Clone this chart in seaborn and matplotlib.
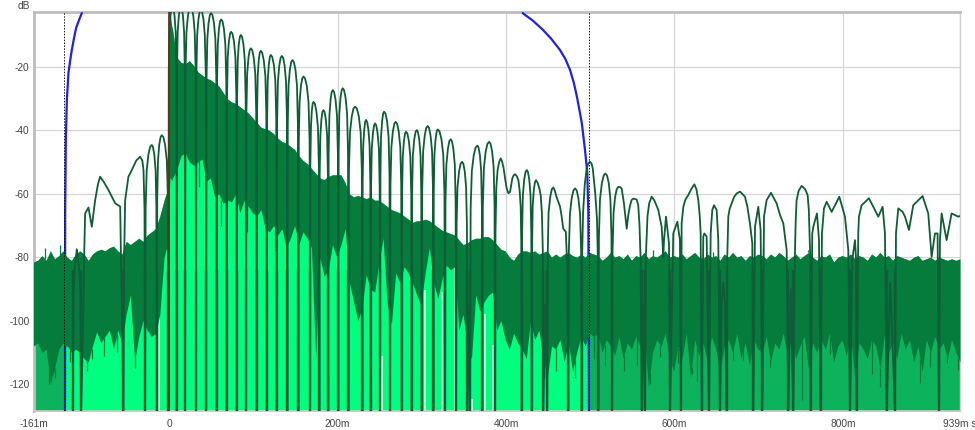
import numpy as np
import matplotlib
matplotlib.use("Agg")
import matplotlib.pyplot as plt
import seaborn as sns

# time base of the noise band (ms)
band_t_pre = [-161,-156,-151,-146,-141,-136,-131,-126,-124,-121,-116,-111,-106,-101,-96,-91,-86,-81,-76,-71,
              -66,-61,-56,-51,-46,-41,-36,-31,-26,-21,-16,-11,-6,-1,0,1,2,3]
band_top_pre = [-81.5,-81,-79.5,-81,-78,-80.5,-79.5,-78,-79,-80,-81,-79,-78,-79,-81,-79,-78,-77.5,-78,-77,
                -76.5,-78,-79,-75,-76,-75,-74,-75,-73,-72,-71,-67,-62,-58,-3,-3,-5,-7]
band_low_pre = [-108,-107,-110,-109,-120,-115,-109,-107,-108,-108,-110,-109,-110,-112,-113,-108,-103.5,-107,-105,-103,
                -109,-103,-107,-98,-92,-113,-105,-100,-103,-105,-104,-98,-80,-75,-60,-55,-55,-56]
band_top_post = [
    -8,-17,-18.5,-19,-18,-19.5,-21.5,-22.5,-23.5,-24,-25,-26,-28,-30,-31,-31.5,-32.5,-33.5,-34.5,-36,
    -37.5,-39,-39.5,-40,-41,-42.5,-43.5,-44,-45,-46,-48,-49.5,-50.5,-52,-53.5,-55,-55.5,-54.5,-54,-54,
    -54,-56.5,-60,-61,-60.5,-61,-61.5,-61,-62,-62,-63,-64,-65,-65.5,-66,-67,-68,-69,-68.5,-68.5,
    -68,-68.5,-69.5,-70.5,-71.5,-72,-72.5,-73,-74.5,-76,-75.5,-74.5,-74,-74,-73.5,-73.5,-74.5,-76,-77.5,-78,
    -80,-81,-79,-78,-78,-78.5,-78,-79,-78.5,-78,-80,-79,-80,-79,-78.5,-79.5,-80,-79,-80,-78.5,
    -79,-79.5,-81,-80,-78.5,-80,-79.5,-80.5,-79,-81,-79.5,-80,-78.5,-80.5,-79.5,-80,-79,-78,-80,-79.5,
    -80,-79,-80.5,-79.5,-78.5,-80,-80.5,-79,-80,-79.5,-81,-79,-80,-78.5,-80,-79.5,-81,-79.5,-80,-79,
    -79.5,-80.5,-79,-80,-78.5,-79.5,-81,-80,-79,-80.5,-79.5,-78.5,-80,-81,-79.5,-80,-79,-81.5,-80,-79.5,
    -80,-79,-80.5,-79.5,-80,-81,-79,-80,-78.5,-80,-79.5,-81,-79.5,-80,-80.5,-81,-80,-79.5,-81,-80.5,
    -80,-81,-80,-80.5,-81,-80.5,-81,-80.5]
band_low_post = [
    -55,-52.5,-48,-47,-50,-51,-50,-49,-56,-55,-61,-60,-63,-62,-62.5,-60,-66,-62,-64,-66,
    -67,-65,-71,-72,-70,-73,-71,-77,-74,-70,-76,-72,-74,-77,-112,-80,-86,-84,-76,-80,
    -76,-71,-88,-94,-100,-96,-85.5,-90,-91,-82,-74,-95,-101,-85,-88,-83,-85,-88,-92,-95,
    -85,-77,-88,-93,-87,-82.5,-84,-83,-103,-98,-108,-112,-92,-97,-94,-92,-91,-103,-100,-106,
    -109,-104,-107,-109,-112,-100,-106,-103,-112,-118,-108,-109,-106,-113,-107,-116,-110,-105,-108,-104,
    -105,-104,-110,-106,-108,-111,-105,-112,-107,-109,-105,-108,-104,-121,-110,-106,-108,-104,-112,-116,
    -108,-112,-104,-118,-106,-111,-107,-113,-105,-109,-116,-108,-106,-110,-104,-112,-107,-114,-106,-109,
    -110,-105,-113,-107,-109,-104,-111,-106,-112,-108,-105,-115,-107,-110,-106,-109,-104,-113,-108,-106,
    -111,-105,-118,-107,-109,-112,-106,-108,-115,-105,-110,-107,-112,-104,-109,-106,-113,-108,-116,-106,
    -110,-105,-109,-107,-112,-106,-110,-113]

# narrow noise spikes reaching below and above the band
spike_low_t = [-143,-136,-118,-97,-92,-77,-62,-40,36,62,92,126,445,459,482,505,517,540,555,571,583,604.6,620.4,626.3,
               669.9,681.7,713.4,751,784.6,834,844,891.5,903.3,923,937]
spike_low_db = [-120,-118,-113,-116,-112,-111,-110,-115,-58,-70,-72,-78,-118,-116,-118,-112,-114,-116,-114,-120,-111.4,
                -113.5,-116.7,-119.3,-112.5,-112.5,-114.6,-125,-110.4,-116.7,-121,-119.8,-114.6,-113.5,-115.6]
spike_top_t = [-147,-130,-110,575,624,646,705.5,759]
spike_top_db = [-77,-76,-77,-77.7,-78.3,-78.3,-77.2,-77.7]

# smoothed envelope, before the impulse
line_t_a = [-114.4,-113.5,-112,-109.5,-107,-105.5,-104.5,-102,-100.9,-99.7,-95.7,-91.8,-87.8,-84.5,-81.9,-77,-72,-64,-58.1,-54.2,
            -53.4,-52.2,-48.3,-44.3,-39,-34.4,-31.8,-30.4,-29.2,-28.5,
            -27.9,-26.6,-24.6,-22.5,-20.6,-19.2,-17.6,-16.0,-15.1,-14.6,
            -14.1,-13.2,-11.7,-10.1,-8.7,-6.8,-4.8,-2.7,-1.4,-0.8]
line_db_a = [-129,-92,-83,-77.6,-83,-92,-129,-100,-80,-66.2,-64.3,-70.4,-62,-57,-54.6,-56.5,-58.8,-63,-64,-129,
             -80,-62,-54.6,-52.5,-49.5,-48.3,-49.5,-52.5,-65,-129,
             -64.6,-52.6,-47.6,-45.2,-44.6,-45.2,-47.6,-52.6,-64.6,-129,
             -61.5,-49.5,-44.5,-42.1,-41.5,-42.1,-44.5,-49.5,-61.5,-129]
# 0 to 200 ms, arch by arch
line_t_b = [-0.4,0.4,1.6,2.8,4,5.2,6.5,7.8,8.6,9,
            9.4,10.2,11.5,12.8,14,15.2,16.5,17.8,18.6,19,
            19.5,20.6,22.3,23.9,25.5,27.1,28.8,30.4,31.5,32,
            32.4,33.3,34.8,36.2,37.5,39.1,40.8,42.4,43.5,44,
            44.5,45.4,46.9,48.4,49.8,51.4,53.2,54.9,56,56.5,
            56.9,57.8,59.2,60.5,61.8,63.4,65.1,66.8,67.9,68.4,
            68.8,69.6,71,72.4,73.6,75.2,77,78.7,79.8,80.3,
            80.7,81.5,82.7,84,85.1,86.6,88.3,89.9,90.9,91.4,
            91.8,92.7,94.2,95.7,97,98.7,100.5,102.3,103.4,104,
            104.4,105.2,106.4,107.6,108.8,110.5,112.4,114.3,115.4,116,
            116.4,117.1,118.4,119.6,120.7,122.4,124.3,126.1,127.2,127.8,
            128.3,129.2,130.8,132.4,133.8,135.4,137.1,138.8,139.9,140.4,
            140.9,141.8,143.4,145,146.4,148.1,150,151.8,152.9,153.5,
            154,154.9,156.5,158.1,159.5,161.4,163.5,165.5,166.8,167.4,
            167.7,168.4,169.4,170.4,171.4,173.1,174.9,176.7,177.8,178.4,
            178.8,179.6,180.8,182,183.2,184.6,186.1,187.6,188.5,189,
            189.4,190.3,191.7,193,194.3,195.9,197.6,199.3,200.4,200.9]
line_db_b = [-21,-9,-4,-1.6,-1,-1.6,-4,-9,-21,-129,
             -21,-9,-4,-1.6,-1,-1.6,-4,-9,-21,-129,
             -21,-9,-4,-1.6,-1,-1.6,-4,-9,-21,-129,
             -22,-10,-5,-2.6,-2,-2.6,-5,-10,-22,-129,
             -23,-11,-6,-3.6,-3,-3.6,-6,-11,-23,-129,
             -25,-13,-8,-5.6,-5,-5.6,-8,-13,-25,-129,
             -28.9,-16.9,-11.9,-9.5,-8.9,-9.5,-11.9,-16.9,-28.9,-129,
             -29.9,-17.9,-12.9,-10.5,-9.9,-10.5,-12.9,-17.9,-29.9,-129,
             -34.1,-22.1,-17.1,-14.7,-14.1,-14.7,-17.1,-22.1,-34.1,-129,
             -34.9,-22.9,-17.9,-15.5,-14.9,-15.5,-17.9,-22.9,-34.9,-129,
             -36.2,-24.2,-19.2,-16.8,-16.2,-16.8,-19.2,-24.2,-36.2,-129,
             -36.5,-24.5,-19.5,-17.1,-16.5,-17.1,-19.5,-24.5,-36.5,-129,
             -37.8,-25.8,-20.8,-18.4,-17.8,-18.4,-20.8,-25.8,-37.8,-129,
             -43,-31,-26,-23.6,-23,-23.6,-26,-31,-43,-129,
             -51,-39,-34,-31.6,-31,-31.6,-34,-39,-51,-129,
             -53.6,-41.6,-36.6,-34.2,-33.6,-34.2,-36.6,-41.6,-53.6,-129,
             -47.3,-35.3,-30.3,-27.9,-27.3,-27.9,-30.3,-35.3,-47.3,-129]
# 200 to 500 ms
line_t_c = [201.3,202.1,203.5,204.9,206.1,207.7,209.5,211.3,212.4,212.9,
            213.5,214.8,216.9,218.9,220.8,222.9,225.2,227.4,228.8,229.5,
            229.8,230.5,231.7,232.8,233.8,235.1,236.6,238,238.9,239.4,
            239.8,240.6,242,243.3,244.5,245.9,247.5,249.1,250,250.5,
            250.9,251.6,252.9,254.1,255.2,256.9,258.8,260.6,261.7,262.3,
            262.8,263.9,265.7,267.4,269,270.7,272.6,274.5,275.6,276.2,
            276.6,277.4,278.8,280.1,281.3,282.9,284.7,286.4,287.5,288,
            288.5,289.4,291,292.6,294,295.4,297,298.5,299.4,299.9,
            300.5,301.6,303.5,305.3,307,308.6,310.4,312.2,313.3,313.8,
            314.2,315,316.4,317.7,318.9,321,323.3,325.5,326.9,327.6,
            328.1,329.2,331,332.7,334.3,335.8,337.5,339.2,340.2,340.7,
            341.3,342.4,344.3,346.1,347.8,349.3,351,352.6,353.6,354.1, 355.5,357.3,
            358,359.4,361.7,363.9,366,367.4,369,370.5,371.4,371.9,
            372.5,373.8,375.9,378,379.9,381.6,383.5,385.3,386.4,387,
            387.5,388.5,390,391.8,393.7,395.3,396.9,398.8,400.8,402.8,404.8,406,407.5,409,410.7,412.7,414.7,416.2,417.4,418.1,418.6,
            419.1,420,421.6,423.2,424.6,426,427.6,429.1,430,430.5,
            431,431.7,433,434.4,435.6,437.5,439.6,441.2,442.6,443.7,444.3, 446.5,449,
            449.6,450.5,452.5,454.3,456.2,458,460,464.1,466,468,471,473,474,
            474.6,475.9,478,480.1,482,483.9,485.9,487.9,489.2,489.8,
            490.5,491.5,493.5,495.8,497.8,499.7,501.5,503,506,508,509,509.6]
line_db_c = [-46.7,-34.7,-29.7,-27.3,-26.7,-27.3,-29.7,-34.7,-46.7,-129,
             -52.5,-40.5,-35.5,-33.1,-32.5,-33.1,-35.5,-40.5,-52.5,-129,
             -56.7,-44.7,-39.7,-37.3,-36.7,-37.3,-39.7,-44.7,-56.7,-129,
             -57.8,-45.8,-40.8,-38.4,-37.8,-38.4,-40.8,-45.8,-57.8,-129,
             -54.1,-42.1,-37.1,-34.7,-34.1,-34.7,-37.1,-42.1,-54.1,-129,
             -57.3,-45.3,-40.3,-37.9,-37.3,-37.9,-40.3,-45.3,-57.3,-129,
             -60.4,-48.4,-43.4,-41,-40.4,-41,-43.4,-48.4,-60.4,-129,
             -59.9,-47.9,-42.9,-40.5,-39.9,-40.5,-42.9,-47.9,-59.9,-129,
             -58.6,-46.6,-41.6,-39.2,-38.6,-39.2,-41.6,-46.6,-58.6,-129,
             -59.7,-47.7,-42.7,-40.3,-39.7,-40.3,-42.7,-47.7,-59.7,-129,
             -62.8,-50.8,-45.8,-43.4,-42.8,-43.4,-45.8,-50.8,-62.8,-129,
             -69.9,-57.9,-52.9,-50.5,-49.9,-50.5,-52.9,-57.9,-69.9,-129, -95,-129,
             -64.8,-52.8,-47.8,-45.4,-44.8,-45.4,-47.8,-52.8,-64.8,-129,
             -63.6,-51.6,-46.6,-44.2,-43.6,-44.2,-46.6,-51.6,-63.6,-129,
             -72,-58,-52.5,-50,-48.8,-49.8,-51.5,-55,-58.3,-59.8,-59.4,-57.5,-55.1,-54.2,-53.8,-54.4,-55.7,-59,-64,-75,-129,
             -72.5,-60.5,-55.5,-53.1,-52.5,-53.1,-55.5,-60.5,-72.5,-129,
             -75.7,-63.7,-58.7,-56.3,-55.7,-56.5,-58.3,-60.5,-66,-78,-129, -95,-129,
             -78,-66,-61,-58.6,-58,-59,-61,-64,-67,-71,-72,-85,-129,
             -78.3,-66.3,-61.3,-58.9,-58.3,-58.9,-61.3,-66.3,-78.3,-129,
             -78,-66,-57,-52,-50.4,-49.9,-50.4,-52,-60,-68,-80,-129]
# 500 to 939 ms
line_t_d = [510.3,511.6,513.8,516,518,519.9,522,523.9,525.2,525.9,
            526.5,527.7,529.5,531.5,533.4,535.5,537.3,540,542,543.3,545,547,549,551.2,555.1,557,558.5,559.7,561.1,
            563,565, 566,568,570,572.9,576,580.8,584.8,586.8,587.5,589.9,593.5,594.7,
            598.6,603.4,606.5,607.7, 608.5,610.5,613,616.4,620,623.6,626,628.3,630,631.1,632.3, 634.2,635.4,638.2,641,
            643,644.9,646.9,650.1,652,654, 656,658,660,661.9,
            662.7,663.9,665.5,667.9,670.8,673.8,677.8,683.7,686.5,689.6,692.4,693.6,
            695.6,699.5,702.3,704.3, 706.3,709.4,714.6,721.3,725.3,729.2,733.2,735.2, 737.9,741.1,
            743.1,744,745,747.5,751,755,758.1,759.5,760.1,761.2,761.7, 763.6,764.8,769.2,771.6,773.5,
            775.1,777.5,780.7,786.6,795.7,802.4,806.4,808.4, 811.1,814.3,815.5,816.3,
            818.2,819,822.2,830.9,842,847.1,849.9,851.9, 856.2,861.8,
            863,865.7,870.9,873.7,878.4,883.5,894.6,901.3,905.3,909.3,912.4,914,
            915.2,917.2,923.1,929,933,937,939]
line_db_d = [-73.6,-61.6,-56.6,-54.2,-53.6,-54.2,-56.6,-61.6,-73.6,-129,
             -77.8,-66,-61,-58.5,-57.8,-57.9,-58.3,-63,-68,-71,-67,-64,-62,-61.5,-61.8,-63.6,-70,-80,-129,
             -95,-129, -80,-67,-63,-60.9,-62,-65.1,-70.4,-79.9,-75,-67.2,-75.6,-129,
             -72.5,-68.8,-74.6,-129, -69.3,-64.1,-61.8,-60.4,-58.5,-57,-58.5,-62,-67,-72.5,-129, -73.5,-72.5,-73.5,-129,
             -72.5,-65.1,-63.6,-65.1,-74.6,-129, -95,-88,-95,-129,
             -80,-67.2,-64.8,-63,-61,-59.9,-59.3,-60.9,-64,-69.3,-75.6,-129,
             -70.4,-64.1,-71.4,-129, -67.2,-62,-59.7,-63,-66.7,-69.3,-77.7,-129, -90,-129,
             -77.7,-68,-62,-59,-57.5,-58.5,-60.4,-65,-70.4,-80,-129, -72.5,-70.4,-66.2,-74.6,-129,
             -72.5,-64.6,-62.5,-65.7,-60.9,-67.2,-77.7,-129, -80.9,-74.6,-80,-129,
             -72.5,-67.2,-63.6,-61.4,-67.2,-64.1,-72.5,-129, -88,-129,
             -72.5,-64.6,-65.7,-67.2,-71.4,-63.6,-60.7,-66.2,-79.9,-72.5,-72.5,-129,
             -74.6,-66.2,-74.6,-66.2,-66.7,-67.2,-67]

# analysis window
win_left_t = [-123.6,-123.4,-122.6,-121.4,-119.5,-117.5,-115.5,-113,-110.4,-107,-103.6]
win_left_db = [-129,-66,-43,-30.4,-21.9,-18,-14.6,-11,-7.7,-5.2,-3]
win_right_t = [419.8,432,443.9,454,464,470.5,476,480.5,484.3,490,493.8,496.5,497.7,498.5]
win_right_db = [-3,-5.4,-8.3,-11.2,-14.6,-17.5,-20.9,-25,-29.5,-37.7,-46.2,-53.4,-66,-129]

# pale gaps in the bright fill
gap_t = [-11.5,252.4,303.9,323.7,339.5,360,375,385]
gap_top = [-90,-111,-90.4,-91,-82.5,-124.6,-98,-107.7]

window_edges = [-124.3,499]
x_ticks = [-161,0,200,400,600,800,939]
x_labels = ["-161m","0","200m","400m","600m","800m","939m s"]
y_ticks = [-20,-40,-60,-80,-100,-120]

sns.set_theme(style="white")
plt.rcParams['font.family'] = ['Liberation Sans', 'DejaVu Sans']

TXT = "#444444"
BAND = "#067C3C"
LINE = "#0F5D36"
FLOOR = -128.5
band_t = np.r_[band_t_pre, np.arange(4, 940, 5)]
band_top = np.r_[band_top_pre, band_top_post]
band_low = np.r_[band_low_pre, band_low_post]
line_t = np.r_[line_t_a, line_t_b, line_t_c, line_t_d]
line_db = np.r_[line_db_a, line_db_b, line_db_c, line_db_d]
null_t = line_t[line_db == -129]

fig = plt.figure(figsize=(9.75, 4.3), dpi=100)
ax = fig.add_axes([33.5/975, 1-411/430, (960-33.5)/975, (411-12)/430])
ax.set_xlim(-161, 939)
ax.set_ylim(FLOOR, -2.65)

ax.set_axisbelow(True)
ax.grid(True, color="#D6D6D6", lw=0.9)

inside = (band_t >= -124) & (band_t <= 499)
ax.fill_between(band_t, FLOOR, band_top, where=band_t <= -124, color="#0CB35C", lw=0, zorder=2)
ax.fill_between(band_t, FLOOR, band_top, where=inside, color="#00FF7F", lw=0, zorder=2)
ax.fill_between(band_t, FLOOR, band_top, where=band_t >= 499, color="#0CB35C", lw=0, zorder=2)
ax.vlines(gap_t, FLOOR, gap_top, color="#E6F7EC", lw=1.1, zorder=2.5)

sns.lineplot(x=win_left_t, y=win_left_db, estimator=None, sort=False, color="#2222DD", lw=1.6, ax=ax, zorder=3)
sns.lineplot(x=win_right_t, y=win_right_db, estimator=None, sort=False, color="#2222DD", lw=1.6, ax=ax, zorder=3)

ax.fill_between(band_t, band_low, band_top, color=BAND, lw=0, zorder=4)
ax.vlines(spike_low_t, spike_low_db, np.interp(spike_low_t, band_t, band_low), color=BAND, lw=0.9, zorder=4)
ax.vlines(spike_top_t, np.interp(spike_top_t, band_t, band_top), spike_top_db, color=BAND, lw=0.9, zorder=4)
sns.lineplot(x=line_t, y=line_db, estimator=None, sort=False, color=LINE, lw=1.3, ax=ax, zorder=5)
# the nulls read as thick dark bars through the noise floor
ax.vlines(null_t, FLOOR, np.minimum(np.interp(null_t, band_t, band_top), -84), color=LINE, lw=1.7, zorder=5)

ax.vlines(window_edges, FLOOR, -2.65, color="#111111", lw=0.7, linestyles=(0, (1.5, 1.5)), zorder=6)
ax.vlines([0], FLOOR, -2.65, color="#6A2E1E", lw=1.3, zorder=6)

ax.set_xticks(x_ticks)
ax.set_xticklabels(x_labels, fontsize=7.3, color=TXT)
ax.set_yticks(y_ticks)
ax.set_yticklabels([str(v) for v in y_ticks], fontsize=7.3, color=TXT)
ax.tick_params(axis="x", length=0, pad=6)
ax.tick_params(axis="y", length=0, pad=3)
ax.set_xlabel("")
ax.set_ylabel("")
fig.text(24/975, 1-1/430, "dB", ha="center", va="top", fontsize=7.3, color=TXT)

for side, w, c in [("left", 2.0, "#BDBDBD"), ("top", 2.0, "#BDBDBD"), ("right", 1.0, "#D0D0D0"), ("bottom", 1.2, "#CCCCCC")]:
    ax.spines[side].set_visible(True)
    ax.spines[side].set_linewidth(w)
    ax.spines[side].set_color(c)

fig.savefig("out.png", dpi=100)
